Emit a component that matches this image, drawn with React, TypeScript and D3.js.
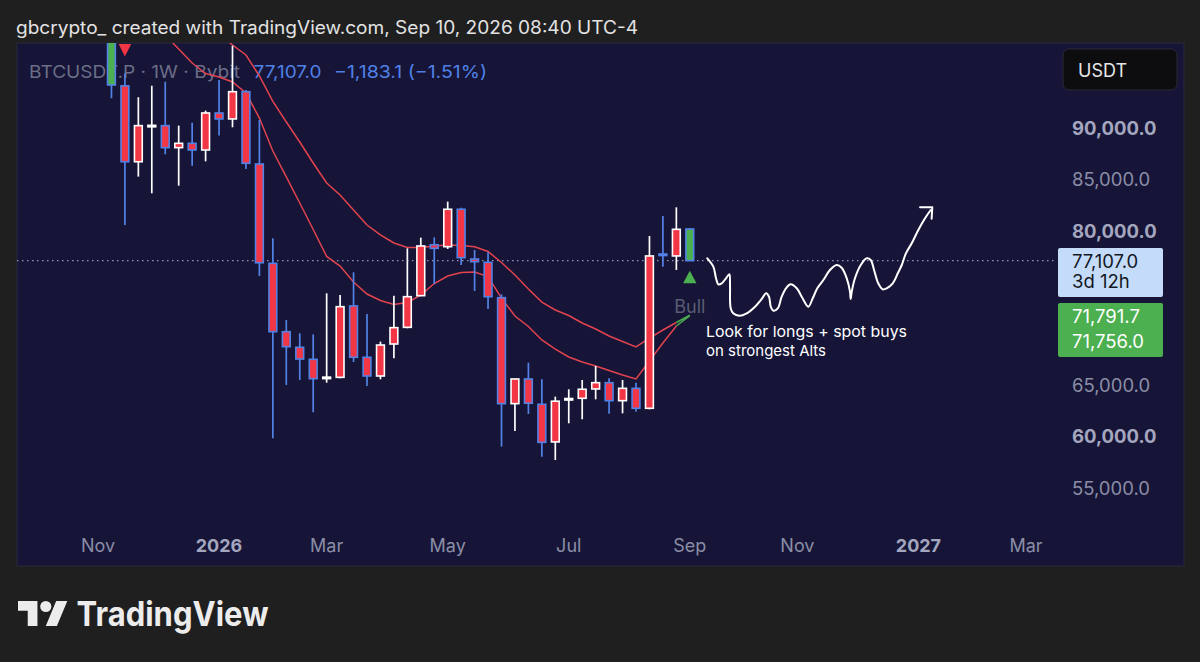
import React from "react";
import * as d3 from "d3";

// ---------- DATA ----------
const weekDates = [
  "2025-11-10", "2025-11-17", "2025-11-24", "2025-12-01", "2025-12-08", "2025-12-15", "2025-12-22", "2025-12-29",
  "2026-01-05", "2026-01-12", "2026-01-19", "2026-01-26", "2026-02-02", "2026-02-09", "2026-02-16", "2026-02-23",
  "2026-03-02", "2026-03-09", "2026-03-16", "2026-03-23", "2026-03-30", "2026-04-06", "2026-04-13", "2026-04-20",
  "2026-04-27", "2026-05-04", "2026-05-11", "2026-05-18", "2026-05-25", "2026-06-01", "2026-06-08", "2026-06-15",
  "2026-06-22", "2026-06-29", "2026-07-06", "2026-07-13", "2026-07-20", "2026-07-27", "2026-08-03", "2026-08-10",
  "2026-08-17", "2026-08-24", "2026-08-31", "2026-09-07",
];
const opens = [
  104700, 94100, 86720, 90180, 90230, 88090, 88510, 87860, 91460, 90880, 93530, 86500, 76840, 70200, 68680, 67510,
  65640, 65760, 72700, 67710, 65890, 69000, 70620, 73700, 78650, 78460, 82100, 77260, 76940, 73500, 63200, 65600,
  63140, 59480, 63600, 63720, 64630, 65240, 63490, 64690, 62750, 77750, 77560, 80180,
];
const highs = [
  107000, 95320, 92990, 94110, 94500, 90230, 90520, 91690, 94670, 98000, 93700, 90780, 79280, 71330, 70040, 69940,
  73930, 73770, 75970, 71920, 69230, 73700, 78300, 79340, 79370, 82840, 82250, 78140, 77920, 73830, 65600, 67180,
  65570, 63880, 64600, 65500, 66860, 65660, 65500, 65240, 79500, 81450, 82290, 80250,
];
const lows = [
  92890, 80570, 85270, 83650, 87440, 84390, 86340, 86760, 89260, 90070, 86010, 75610, 59830, 65020, 65500, 62360,
  65240, 65660, 67250, 64920, 65570, 67610, 70530, 73650, 74830, 78240, 76680, 74150, 72400, 59020, 60540, 62200,
  58040, 57720, 61290, 61680, 63620, 62230, 62260, 62420, 62650, 76520, 76200, 77050,
];
const closes = [
  94180, 86720, 90230, 90260, 88090, 88510, 87860, 91460, 90880, 93530, 86570, 76900, 70200, 68740, 67540, 65630,
  65780, 72630, 67710, 65890, 68900, 70590, 73600, 78530, 78300, 82100, 77390, 77000, 73600, 63200, 65600, 63240,
  59440, 63440, 63700, 64600, 65240, 63490, 64690, 62750, 77560, 77600, 80150, 77107,
];
// body colour from the trend indicator
const trendState = [
  "bull", "bear", "bear", "bear", "bear", "bear", "bear", "bear", "bear", "bear", "bear", "bear", "bear", "bear", "bear", "bear",
  "bear", "bear", "bear", "bear", "bear", "bear", "bear", "bear", "bear", "bear", "bear", "bear", "bear", "bear", "bear", "bear",
  "bear", "bear", "bear", "bear", "bear", "bear", "bear", "bear", "bear", "bear", "bear", "bull",
];
const fastMA = [
  null, null, null, 100400, 99040, 97680, 96320, 95300, 94960, 94470, 93400, 90970, 87760, 85240, 82710, 80130,
  77510, 76580, 75030, 73860, 73230, 72840, 73040, 73760, 74880, 75610, 75950, 76000, 75560, 73470, 71720, 70700,
  69390, 68510, 67740, 67250, 66860, 66420, 65990, 65600, 67350, 69100, 70750, 71756.0,
];
const slowMA = [
  null, null, null, null, null, null, 100990, 100110, 99140, 98070, 97100, 95060, 92580, 90580, 88640, 86600,
  84650, 83490, 82030, 80570, 79600, 78820, 78380, 78380, 78530, 78620, 78580, 78460, 77990, 76920, 75710, 74350,
  73080, 72310, 71770, 71040, 70460, 69780, 69240, 68710, 69580, 70360, 71090, 71791.7,
];
const timeTicks = [
  { date: "2025-11-03", label: "Nov", major: false },
  { date: "2026-01-05", label: "2026", major: true },
  { date: "2026-03-02", label: "Mar", major: false },
  { date: "2026-05-04", label: "May", major: false },
  { date: "2026-07-06", label: "Jul", major: false },
  { date: "2026-09-07", label: "Sep", major: false },
  { date: "2026-11-02", label: "Nov", major: false },
  { date: "2027-01-04", label: "2027", major: true },
  { date: "2027-03-01", label: "Mar", major: false },
];
// visible price-scale labels (70k and 75k sit under the value labels)
const priceTicks = [55000, 60000, 65000, 80000, 85000, 90000];
// hand-drawn projection: [weeks since 2025-11-03, price]
const projection = [
  [45.3, 77332], [45.75, 76516], [45.95, 75388], [46.12, 74805], [46.37, 74902], [46.69, 75388], [46.94, 75777],
  [46.99, 74737], [47.04, 72471], [47.23, 71985], [47.68, 71752], [48.23, 71985], [48.85, 72627], [49.35, 73376],
  [49.67, 73930], [49.89, 73599], [50.02, 72627], [50.21, 72238], [50.54, 72471], [50.83, 73599], [51.15, 74416],
  [51.5, 74805], [51.95, 74416], [52.32, 73599], [52.81, 72627], [53.14, 73443], [53.48, 74416], [53.93, 75223],
  [54.42, 76195], [54.92, 76681], [55.29, 76419], [55.67, 75388], [55.91, 74085], [55.96, 73376], [56.04, 74085],
  [56.28, 75388], [56.71, 76681], [57.15, 77332], [57.45, 77167], [57.7, 76195], [58.01, 74902], [58.34, 74318],
  [58.64, 74416], [59.09, 74902], [59.5, 75971], [59.76, 76681], [60.07, 77818], [60.5, 78791], [60.99, 80084],
  [61.49, 81221], [61.91, 82028],
];
const projectionArrow = [[61.12, 82290], [62.03, 82290], [61.98, 81182]];
const lastPrice = 77107.0;
const legendSymbol = "BTCUSDT.P · 1W · Bybit";
const legendPrice = "77,107.0";
const legendChange = "−1,183.1 (−1.51%)";
const noteLines = ["Look for longs + spot buys", "on strongest Alts"];

// ---------- COMPONENT ----------
const FONT = "Inter, 'Noto Sans', sans-serif";

export default function App() {
  const parse = d3.utcParse("%Y-%m-%d");
  const origin = parse("2025-11-03") as Date;
  const x = d3
    .scaleUtc()
    .domain([origin, parse("2026-09-07") as Date])
    .range([98, 689.8]);
  const y = d3.scaleLinear().domain([55000, 90000]).range([488, 128]);
  const weekX = (w: number) => x(new Date(origin.getTime() + w * 7 * 86400000));

  const bars = weekDates.map((d, i) => ({
    date: parse(d) as Date,
    o: opens[i],
    h: highs[i],
    l: lows[i],
    c: closes[i],
    trend: trendState[i],
  }));
  const bw = 9.4;
  const up = "#ffffff";
  const down = "#5282e6";

  const maLine = d3
    .line<[Date, number]>()
    .x((d) => x(d[0]))
    .y((d) => y(d[1]));
  const fastPts = bars.map((b, i) => [b.date, fastMA[i]]).filter((p) => p[1] != null) as [Date, number][];
  const slowPts = bars.map((b, i) => [b.date, slowMA[i]]).filter((p) => p[1] != null) as [Date, number][];

  const projLine = d3
    .line<number[]>()
    .x((d) => weekX(d[0]))
    .y((d) => y(d[1]))
    .curve(d3.curveCatmullRom.alpha(0.5));
  const arrowLine = d3
    .line<number[]>()
    .x((d) => weekX(d[0]))
    .y((d) => y(d[1]));

  const fmt = d3.format(",.1f");
  const last = bars[bars.length - 1];
  const first2 = bars[1];

  return (
    <svg
      width={1200}
      height={662}
      style={{ position: "absolute", left: 0, top: 0, display: "block" }}
      fontFamily={FONT}
    >
      <defs>
        <clipPath id="plot">
          <rect x={17} y={43} width={1040} height={480} />
        </clipPath>
      </defs>
      <rect x={0} y={0} width={1200} height={662} fill="#1f1f1f" />
      <text x={16} y={34} fill="#e3e3e3" fontSize={18} textLength={622} lengthAdjust="spacingAndGlyphs">
        gbcrypto_ created with TradingView.com, Sep 10, 2026 08:40 UTC-4
      </text>
      <rect x={17} y={43} width={1167} height={523} fill="#161537" stroke="#2a2a3c" strokeWidth={1} />

      {/* legend (drawn beneath the candles) */}
      <text x={29} y={78} fill="#6b6e88" fontSize={17.5} textLength={211} lengthAdjust="spacingAndGlyphs">
        {legendSymbol}
      </text>
      <text x={253.6} y={78} fill="#4f80e6" fontSize={17.5} textLength={68} lengthAdjust="spacingAndGlyphs">
        {legendPrice}
      </text>
      <text x={334} y={78} fill="#4f80e6" fontSize={17.5} textLength={153} lengthAdjust="spacingAndGlyphs">
        {legendChange}
      </text>

      <g clipPath="url(#plot)">
        {/* last price line */}
        <line
          x1={17}
          x2={1058}
          y1={y(lastPrice)}
          y2={y(lastPrice)}
          stroke="#8c96b8"
          strokeWidth={1.3}
          strokeDasharray="1.5 3.5"
        />
        {/* moving averages */}
        <path d={maLine(slowPts.slice(0, -1)) || ""} fill="none" stroke="#e2434f" strokeWidth={1.5} />
        <path d={maLine(fastPts.slice(0, -1)) || ""} fill="none" stroke="#e2434f" strokeWidth={1.5} />
        <path d={maLine(slowPts.slice(-2)) || ""} fill="none" stroke="#4caf50" strokeWidth={1.5} />
        <path d={maLine(fastPts.slice(-2)) || ""} fill="none" stroke="#4caf50" strokeWidth={1.5} />

        {/* candles */}
        {bars.map((b, i) => {
          const cx = x(b.date);
          const isUp = b.c >= b.o;
          const edge = isUp ? up : down;
          const top = y(Math.max(b.o, b.c));
          const bot = y(Math.min(b.o, b.c));
          const h = Math.max(bot - top, 1.5);
          return (
            <g key={i}>
              <line x1={cx} x2={cx} y1={y(b.h)} y2={y(b.l)} stroke={edge} strokeWidth={1.7} />
              <rect
                x={cx - bw / 2 + 0.8}
                y={top}
                width={bw - 1.6}
                height={h}
                fill={b.trend === "bull" ? "#4caf50" : "#f23645"}
                stroke={edge}
                strokeWidth={1.6}
              />
            </g>
          );
        })}

        {/* signal markers */}
        <path
          d={`M${x(first2.date) - 6.3},44 L${x(first2.date) + 6.3},44 L${x(first2.date)},56.5 Z`}
          fill="#f23645"
        />
        <path
          d={`M${x(last.date) - 6.7},${y(last.l) + 22} L${x(last.date) + 6.7},${y(last.l) + 22} L${x(last.date)},${y(last.l) + 9.5} Z`}
          fill="#4caf50"
        />
        <text x={x(last.date)} y={y(last.l) + 52} fill="#5a5d72" fontSize={18} textAnchor="middle">
          Bull
        </text>

        {/* projection */}
        <path d={projLine(projection) || ""} fill="none" stroke="#ffffff" strokeWidth={2} strokeLinejoin="round" strokeLinecap="round" />
        <path d={arrowLine(projectionArrow) || ""} fill="none" stroke="#ffffff" strokeWidth={2} strokeLinejoin="round" strokeLinecap="round" />
        <text x={706} y={337} fill="#ffffff" fontSize={15} textLength={201} lengthAdjust="spacingAndGlyphs">
          {noteLines[0]}
        </text>
        <text x={706} y={355.5} fill="#ffffff" fontSize={15}>
          {noteLines[1]}
        </text>
      </g>

      {/* price axis */}
      {priceTicks.map((p) => {
        const major = p % 10000 === 0;
        return (
          <text
            key={p}
            x={1072}
            y={y(p)}
            dy="0.36em"
            fill={major ? "#a4a6bf" : "#8b8da6"}
            fontSize={18.5}
            fontWeight={major ? 700 : 400}
          >
            {fmt(p)}
          </text>
        );
      })}

      {/* last price label */}
      <rect x={1058} y={248} width={105} height={49} rx={2} fill="#c4dcfa" />
      <text x={1072} y={267.5} fill="#131722" fontSize={18.5}>
        {fmt(lastPrice)}
      </text>
      <text x={1072} y={288} fill="#131722" fontSize={18.5}>
        3d 12h
      </text>
      {/* MA labels */}
      <rect x={1058} y={303} width={105} height={54} rx={2} fill="#4caf50" />
      <text x={1072} y={322.5} fill="#ffffff" fontSize={18.5}>
        {fmt(slowMA[slowMA.length - 1] as number)}
      </text>
      <text x={1072} y={347.5} fill="#ffffff" fontSize={18.5}>
        {fmt(fastMA[fastMA.length - 1] as number)}
      </text>

      {/* currency box */}
      <rect x={1063} y={49} width={114} height={41} rx={6} fill="#0d0d10" stroke="#2b2b35" />
      <text x={1078} y={76.5} fill="#e6e6e6" fontSize={18}>
        USDT
      </text>

      {/* time axis */}
      {timeTicks.map((t, i) => (
        <text
          key={i}
          x={x(parse(t.date) as Date)}
          y={552}
          textAnchor="middle"
          fill={t.major ? "#a4a6bf" : "#8b8da6"}
          fontSize={18}
          fontWeight={t.major ? 700 : 400}
        >
          {t.label}
        </text>
      ))}

      {/* TradingView logo */}
      <g transform="translate(18,595.4) scale(1.389)" fill="#ececec">
        <path d="M14 22H7V11H0V4h14v18zM28 22h-8l7.5-18h8L28 22z" />
        <circle cx={20} cy={8} r={4} />
      </g>
      <text x={76.5} y={626} fill="#ececec" fontSize={34} fontWeight={700} textLength={192} lengthAdjust="spacingAndGlyphs">
        TradingView
      </text>
    </svg>
  );
}
